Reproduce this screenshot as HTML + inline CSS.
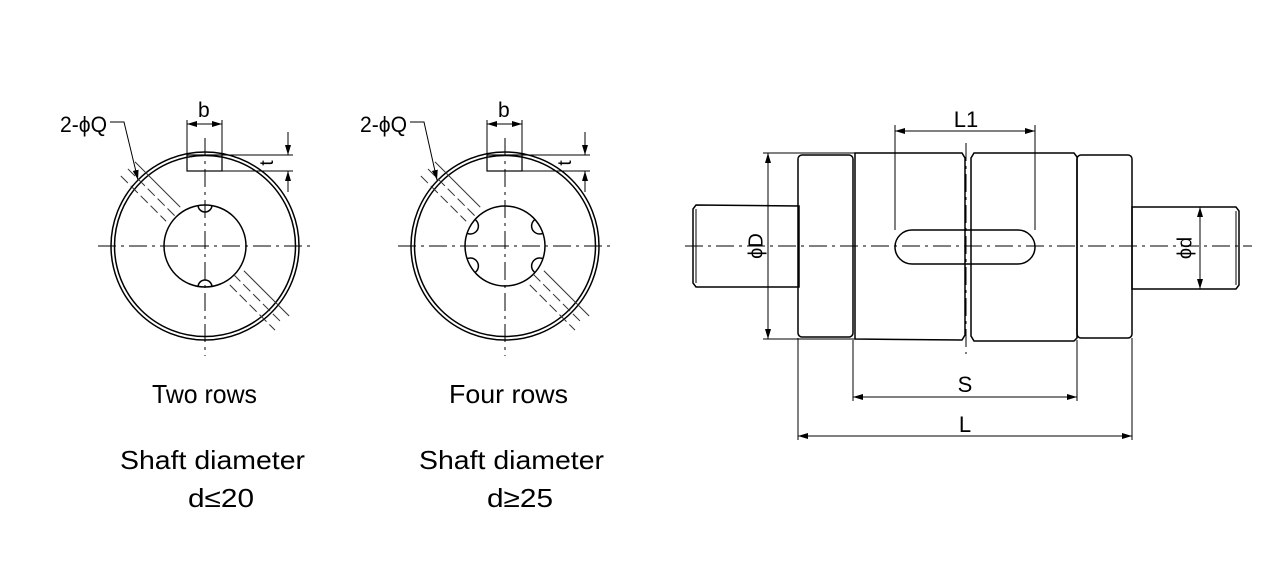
<!DOCTYPE html>
<html><head><meta charset="utf-8"><style>
html,body{margin:0;padding:0;background:#fff}
svg{display:block}
text{font-family:"Liberation Sans",sans-serif;fill:#000}
.m{font-family:"Liberation Sans",sans-serif;font-size:26px}
</style></head><body>
<svg width="1286" height="570" viewBox="0 0 1286 570">
<defs>
<marker id="a" viewBox="0 0 10 6" refX="10" refY="3" markerWidth="10" markerHeight="6" orient="auto-start-reverse" markerUnits="userSpaceOnUse"><path d="M0,0 L10,3 L0,6 Z" fill="#000"/></marker>
<clipPath id="h1"><circle cx="205" cy="246" r="41"/></clipPath>
<clipPath id="h2"><circle cx="505" cy="246" r="40"/></clipPath>
</defs>
<g fill="none" stroke="#000" stroke-width="1.5">
<g>
<circle cx="205" cy="246" r="94"/><circle cx="205" cy="246" r="90.5"/>
<circle cx="205" cy="246" r="41"/>
<g clip-path="url(#h1)"><circle cx="205" cy="205" r="7"/><circle cx="205" cy="287" r="7"/></g>
<g transform="rotate(45 205 246)" stroke="#333" stroke-width="1">
<line x1="96" y1="236" x2="160" y2="236"/><line x1="96" y1="246" x2="165" y2="246" stroke-dasharray="10 4"/><line x1="96" y1="256" x2="160" y2="256" stroke-dasharray="10 4"/>
<line x1="250" y1="236" x2="314" y2="236"/><line x1="245" y1="246" x2="314" y2="246" stroke-dasharray="10 4"/><line x1="250" y1="256" x2="314" y2="256" stroke-dasharray="10 4"/>
</g>
<line x1="98" y1="246" x2="315" y2="246" stroke-width="1" stroke-dasharray="18 5 3 5"/>
<line x1="205" y1="138" x2="205" y2="356" stroke-width="1" stroke-dasharray="18 5 3 5"/>
<rect x="187" y="155" width="35" height="16" stroke-width="1.2"/>
<line x1="187" y1="120" x2="187" y2="155" stroke-width="1"/><line x1="222" y1="120" x2="222" y2="155" stroke-width="1"/>
<line x1="187" y1="124" x2="222" y2="124" stroke-width="1" marker-start="url(#a)" marker-end="url(#a)"/>
<line x1="222" y1="155" x2="293" y2="155" stroke-width="1"/><line x1="222" y1="171" x2="293" y2="171" stroke-width="1"/>
<line x1="288" y1="132" x2="288" y2="155" stroke-width="1" marker-end="url(#a)"/>
<line x1="288" y1="192" x2="288" y2="171" stroke-width="1" marker-end="url(#a)"/>
<polyline points="110,122 124,122 138,180" stroke-width="1" marker-end="url(#a)"/>
</g>
<g>
<circle cx="505" cy="246" r="94"/><circle cx="505" cy="246" r="90.5"/>
<circle cx="505" cy="246" r="40"/>
<g clip-path="url(#h2)"><circle cx="470.4" cy="226" r="8"/><circle cx="539.6" cy="226" r="8"/><circle cx="470.4" cy="266" r="8"/><circle cx="539.6" cy="266" r="8"/></g>
<g transform="rotate(45 505 246)" stroke="#333" stroke-width="1">
<line x1="396" y1="236" x2="460" y2="236"/><line x1="396" y1="246" x2="465" y2="246" stroke-dasharray="10 4"/><line x1="396" y1="256" x2="460" y2="256" stroke-dasharray="10 4"/>
<line x1="550" y1="236" x2="614" y2="236"/><line x1="545" y1="246" x2="614" y2="246" stroke-dasharray="10 4"/><line x1="550" y1="256" x2="614" y2="256" stroke-dasharray="10 4"/>
</g>
<line x1="398" y1="246" x2="615" y2="246" stroke-width="1" stroke-dasharray="18 5 3 5"/>
<line x1="505" y1="138" x2="505" y2="356" stroke-width="1" stroke-dasharray="18 5 3 5"/>
<rect x="487" y="155" width="35" height="16" stroke-width="1.2"/>
<line x1="487" y1="120" x2="487" y2="155" stroke-width="1"/><line x1="522" y1="120" x2="522" y2="155" stroke-width="1"/>
<line x1="487" y1="124" x2="522" y2="124" stroke-width="1" marker-start="url(#a)" marker-end="url(#a)"/>
<line x1="522" y1="155" x2="590" y2="155" stroke-width="1"/><line x1="522" y1="171" x2="590" y2="171" stroke-width="1"/>
<line x1="585" y1="132" x2="585" y2="155" stroke-width="1" marker-end="url(#a)"/>
<line x1="585" y1="192" x2="585" y2="171" stroke-width="1" marker-end="url(#a)"/>
<polyline points="410,122 424,122 437,180" stroke-width="1" marker-end="url(#a)"/>
</g>
<g>
<path d="M696,205 L799,206 L799,287 L696,287 L693,283 L693,209 Z"/>
<line x1="696" y1="209" x2="696" y2="283" stroke-width="1"/>
<rect x="798" y="155" width="55" height="182" rx="4"/>
<path d="M855,153 L962,153 L965,158 L965,335 L962,340 L855,339 Z"/>
<path d="M974,153 L1074,153 L1077,157 L1077,338 L1074,341 L974,341 L971,336 L971,158 Z"/>
<rect x="1077" y="155" width="55" height="183" rx="4"/>
<path d="M1132,207 L1236,207 L1239,211 L1239,285 L1236,289 L1132,289 Z"/>
<line x1="1236" y1="211" x2="1236" y2="285" stroke-width="1"/>
<rect x="895" y="230" width="140" height="34" rx="17"/>
<line x1="685" y1="246" x2="1252" y2="246" stroke-width="1" stroke-dasharray="18 5 3 5"/>
<line x1="966" y1="143" x2="966" y2="354" stroke-width="1" stroke-dasharray="18 5 3 5"/>
<line x1="895" y1="125" x2="895" y2="230" stroke-width="1"/><line x1="1035" y1="125" x2="1035" y2="230" stroke-width="1"/>
<line x1="895" y1="131" x2="1035" y2="131" stroke-width="1" marker-start="url(#a)" marker-end="url(#a)"/>
<line x1="763" y1="153" x2="855" y2="153" stroke-width="1"/><line x1="763" y1="339" x2="855" y2="339" stroke-width="1"/>
<line x1="768" y1="153" x2="768" y2="339" stroke-width="1" marker-start="url(#a)" marker-end="url(#a)"/>
<line x1="1200" y1="207" x2="1200" y2="289" stroke-width="1" marker-start="url(#a)" marker-end="url(#a)"/>
<line x1="853" y1="340" x2="853" y2="401" stroke-width="1"/><line x1="1077" y1="340" x2="1077" y2="401" stroke-width="1"/>
<line x1="853" y1="397" x2="1077" y2="397" stroke-width="1" marker-start="url(#a)" marker-end="url(#a)"/>
<line x1="798" y1="338" x2="798" y2="440" stroke-width="1"/><line x1="1132" y1="338" x2="1132" y2="440" stroke-width="1"/>
<line x1="798" y1="436" x2="1132" y2="436" stroke-width="1" marker-start="url(#a)" marker-end="url(#a)"/>
</g>
</g>
<text x="60" y="132" font-size="22" textLength="47" lengthAdjust="spacingAndGlyphs">2-ϕQ</text>
<text x="360" y="132" font-size="22" textLength="47" lengthAdjust="spacingAndGlyphs">2-ϕQ</text>
<text x="198" y="117" font-size="21">b</text>
<text x="498" y="117" font-size="21">b</text>
<text transform="translate(268,163) rotate(-90)" font-size="19" text-anchor="middle" dominant-baseline="middle">t</text>
<text transform="translate(566,163) rotate(-90)" font-size="19" text-anchor="middle" dominant-baseline="middle">t</text>
<text x="966" y="127" font-size="22" text-anchor="middle">L1</text>
<text x="965" y="392" font-size="22" text-anchor="middle">S</text>
<text x="965" y="432" font-size="22" text-anchor="middle">L</text>
<text transform="translate(757,246) rotate(-90)" font-size="20" text-anchor="middle" dominant-baseline="middle">ϕD</text>
<text transform="translate(1186,248) rotate(-90)" font-size="20" text-anchor="middle" dominant-baseline="middle">ϕd</text>
<text class="m" x="152" y="403" textLength="105" lengthAdjust="spacingAndGlyphs">Two rows</text>
<text class="m" x="449" y="403" textLength="119" lengthAdjust="spacingAndGlyphs">Four rows</text>
<text class="m" x="120" y="469" textLength="185" lengthAdjust="spacingAndGlyphs">Shaft diameter</text>
<text class="m" x="419" y="469" textLength="185" lengthAdjust="spacingAndGlyphs">Shaft diameter</text>
<text class="m" x="188" y="507" textLength="66" lengthAdjust="spacingAndGlyphs">d≤20</text>
<text class="m" x="487" y="507" textLength="66" lengthAdjust="spacingAndGlyphs">d≥25</text>
</svg>
</body></html>
